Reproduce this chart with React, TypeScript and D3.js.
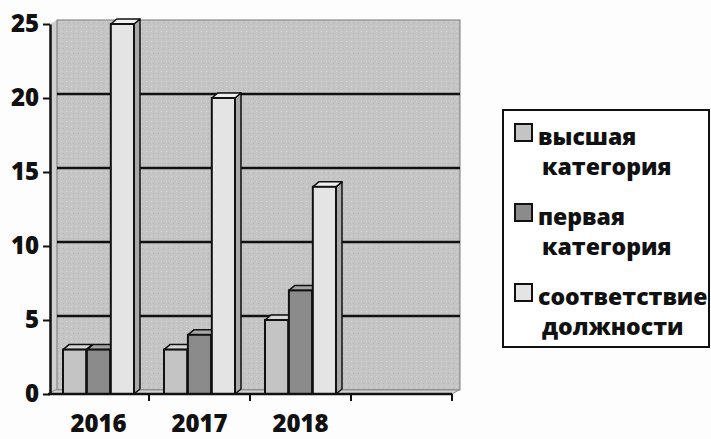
import React, { useEffect, useRef } from 'react';
import * as d3 from 'd3';

// categories (4th slot is empty, as in the original Excel chart)
const years = ['2016', '2017', '2018', ''];
const legendLines = [
  ['высшая', 'категория'],
  ['первая', 'категория'],
  ['соответствие', 'должности'],
];
const highest = [3, 3, 5];
const first = [3, 4, 7];
const matching = [25, 20, 14];
const yTicks = [0, 5, 10, 15, 20, 25];

const frontFill = ['#c4c4c4', '#8b8b8b', '#e4e4e4'];
const sideFill = ['#8e8e8e', '#626262', '#a9a9a9'];
const topFill = ['#d6d6d6', '#a6a6a6', '#f0f0f0'];

const W = 711;
const H = 439;
const FONT = '"Open Sans", Lato, sans-serif';

const App = () => {
  const svgRef = useRef<SVGSVGElement>(null);

  useEffect(() => {
    const svg = d3.select(svgRef.current);
    svg.selectAll('*').remove();

    const series = [highest, first, matching];

    const x = d3.scaleBand<string>().domain(years).range([48, 452]);
    const sx = d3.scaleBand<number>()
      .domain([0, 1, 2])
      .range([15, 86])
      .paddingInner(0.03);
    const y = d3.scaleLinear().domain([0, 25]).range([394, 24]);

    // 3D offsets
    const wdx = 7, wdy = 4;   // walls
    const bdx = 6, bdy = 5;   // bars

    svg.append('rect').attr('width', W).attr('height', H).attr('fill', '#fdfdfd');

    // stipple texture for the scanned look
    const defs = svg.append('defs');
    const pat = defs.append('pattern')
      .attr('id', 'stipple')
      .attr('width', 5).attr('height', 5)
      .attr('patternUnits', 'userSpaceOnUse');
    pat.append('rect').attr('width', 5).attr('height', 5).attr('fill', '#c5c5c5');
    pat.append('rect').attr('x', 1).attr('y', 1).attr('width', 1).attr('height', 1).attr('fill', '#d6d6d6');
    pat.append('rect').attr('x', 3).attr('y', 3).attr('width', 1).attr('height', 1).attr('fill', '#b6b6b6');

    const x0 = x.range()[0];
    const x1 = x.range()[1];
    const yTop = y(25);
    const yBot = y(0);

    // side wall
    svg.append('polygon')
      .attr('points', [[x0 + 2, yTop], [x0 + 2 + wdx, yTop - wdy], [x0 + 2 + wdx, yBot - wdy], [x0 + 2, yBot]].join(' '))
      .attr('fill', '#cfcfcf');

    // back wall
    svg.append('rect')
      .attr('x', x0 + 2 + wdx)
      .attr('y', yTop - wdy)
      .attr('width', x1 + wdx - (x0 + 2 + wdx) + 1)
      .attr('height', yBot - yTop)
      .attr('fill', 'url(#stipple)')
      .attr('stroke', '#7a7a7a')
      .attr('stroke-width', 1);

    // floor
    svg.append('polygon')
      .attr('points', [[x0, yBot], [x1, yBot], [x1 + wdx, yBot - wdy], [x0 + wdx, yBot - wdy]].join(' '))
      .attr('fill', '#d2d2d2')
      .attr('stroke', '#8a8a8a')
      .attr('stroke-width', 1);

    // gridlines on back wall
    svg.append('g')
      .selectAll('line')
      .data(yTicks.filter(v => v > 0 && v < 25))
      .join('line')
      .attr('x1', x0 + 2 + wdx)
      .attr('x2', x1 + wdx + 1)
      .attr('y1', d => y(d) - wdy)
      .attr('y2', d => y(d) - wdy)
      .attr('stroke', '#111')
      .attr('stroke-width', 2.5);

    // bars
    const barData = years.slice(0, 3).flatMap((yr, i) =>
      series.map((s, k) => ({ yr, k, v: s[i] }))
    );
    const bars = svg.append('g')
      .selectAll('g')
      .data(barData)
      .join('g');

    bars.each(function (d) {
      const g = d3.select(this);
      const bx = (x(d.yr) as number) + (sx(d.k) as number);
      const bw = sx.bandwidth();
      const top = y(d.v);
      g.append('polygon')
        .attr('points', [[bx + bw, top], [bx + bw + bdx, top - bdy], [bx + bw + bdx, yBot - bdy], [bx + bw, yBot]].join(' '))
        .attr('fill', sideFill[d.k])
        .attr('stroke', '#111')
        .attr('stroke-width', 1.5)
        .attr('stroke-linejoin', 'round');
      g.append('polygon')
        .attr('points', [[bx, top], [bx + bdx, top - bdy], [bx + bw + bdx, top - bdy], [bx + bw, top]].join(' '))
        .attr('fill', topFill[d.k])
        .attr('stroke', '#111')
        .attr('stroke-width', 1.5)
        .attr('stroke-linejoin', 'round');
      g.append('rect')
        .attr('x', bx)
        .attr('y', top)
        .attr('width', bw)
        .attr('height', yBot - top)
        .attr('fill', frontFill[d.k])
        .attr('stroke', '#111')
        .attr('stroke-width', 2);
    });

    // y axis
    const yAxis = svg.append('g')
      .attr('transform', `translate(${x0 + 2},0)`)
      .call(d3.axisLeft(y).tickValues(yTicks).tickSize(7).tickSizeOuter(0).tickPadding(4));
    yAxis.select('.domain').attr('stroke', '#111').attr('stroke-width', 2.5);
    yAxis.selectAll('.tick line').attr('stroke', '#111').attr('stroke-width', 2);
    yAxis.selectAll('.tick text')
      .attr('fill', '#111')
      .style('font-family', FONT)
      .style('font-weight', 800)
      .style('font-size', '24px');

    // x axis: line, ticks at category boundaries
    svg.append('line')
      .attr('x1', x0).attr('x2', x1)
      .attr('y1', yBot).attr('y2', yBot)
      .attr('stroke', '#111').attr('stroke-width', 2.5);
    svg.append('g')
      .selectAll('line')
      .data(years.map((_, i) => x0 + x.step() * (i + 1)))
      .join('line')
      .attr('x1', d => d).attr('x2', d => d)
      .attr('y1', yBot).attr('y2', yBot + 7)
      .attr('stroke', '#111').attr('stroke-width', 2);

    svg.append('g')
      .selectAll('text')
      .data(years.filter(d => d))
      .join('text')
      .attr('x', d => (x(d) as number) + x.bandwidth() / 2)
      .attr('y', 432)
      .attr('text-anchor', 'middle')
      .attr('fill', '#111')
      .style('font-family', FONT)
      .style('font-weight', 800)
      .style('font-size', '24px')
      .text(d => d);

    // legend
    const lg = svg.append('g');
    lg.append('rect')
      .attr('x', 503).attr('y', 110)
      .attr('width', 206).attr('height', 237)
      .attr('fill', '#fff')
      .attr('stroke', '#111')
      .attr('stroke-width', 2);
    legendLines.forEach((lines, k) => {
      const base = 145 + k * 80;
      lg.append('rect')
        .attr('x', 515).attr('y', base - 21)
        .attr('width', 17).attr('height', 17)
        .attr('fill', frontFill[k])
        .attr('stroke', '#111')
        .attr('stroke-width', 2);
      lines.forEach((t, j) => {
        lg.append('text')
          .attr('x', j === 0 ? 538 : 542)
          .attr('y', base + j * 30)
          .attr('fill', '#111')
          .style('font-family', FONT)
          .style('font-weight', 800)
          .style('font-size', '23px')
          .text(t);
      });
    });
  }, []);

  return (
    <svg
      ref={svgRef}
      width={W}
      height={H}
      style={{ position: 'absolute', left: 0, top: 0 }}
    />
  );
};

export default App;
